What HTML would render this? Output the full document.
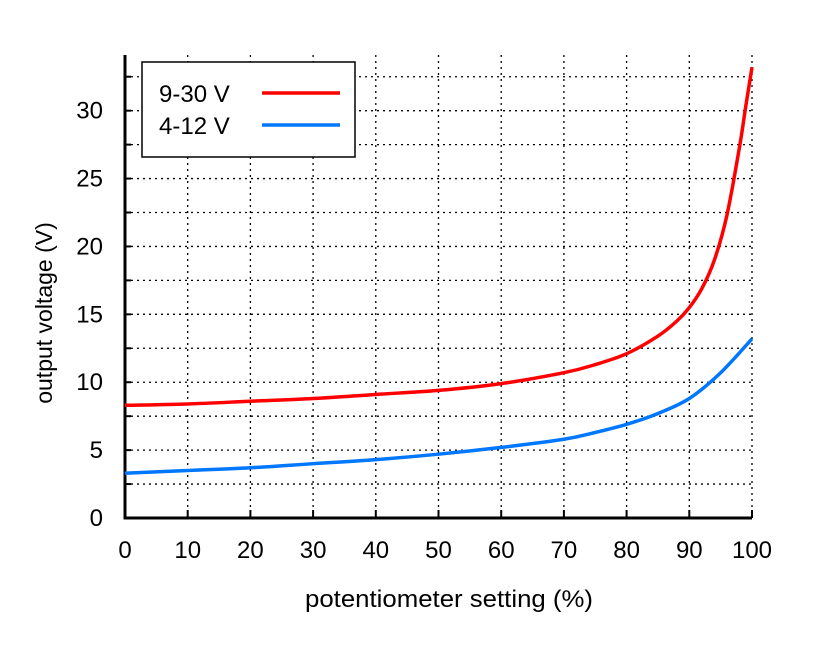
<!DOCTYPE html>
<html><head><meta charset="utf-8"><style>body{margin:0;background:#fff}svg{display:block;font-family:"Liberation Sans",sans-serif}</style></head>
<body>
<svg id="c" width="831" height="648" xmlns="http://www.w3.org/2000/svg"></svg>
<script>
const xTicks=[0,10,20,30,40,50,60,70,80,90,100];
const yTicks=[0,5,10,15,20,25,30];
const redX=[0,10,20,30,40,50,60,70,75,80,85,88,90,92,94,96,98,99,100];
const redY=[8.3,8.4,8.6,8.8,9.1,9.4,9.9,10.7,11.3,12.1,13.4,14.5,15.5,16.9,19.0,22.3,27.3,30.3,33.2];
const blueX=[0,10,20,30,40,50,60,70,75,80,85,90,95,100];
const blueY=[3.3,3.5,3.7,4.0,4.3,4.7,5.2,5.8,6.3,6.9,7.7,8.8,10.7,13.2];
const L=125,R=752,T=55,B=518,YMAX=34.1;
const sx=v=>L+(R-L)*v/100, sy=v=>B-(B-T)*v/YMAX;
const svg=document.getElementById('c');const NS='http://www.w3.org/2000/svg';
function mk(t,a,p){const e=document.createElementNS(NS,t);for(const k in a)e.setAttribute(k,a[k]);(p||svg).appendChild(e);return e;}
for(let v=2.5;v<YMAX;v+=2.5){const g=mk('line',{x1:L,x2:R,y1:sy(v),y2:sy(v),stroke:'#000','stroke-width':1.3,'stroke-dasharray':'2,4'});

const t=mk('line',{x1:L,x2:L+6,y1:sy(v),y2:sy(v),stroke:'#000','stroke-width':2});}
xTicks.forEach(v=>{if(v>0){const g=mk('line',{x1:sx(v),x2:sx(v),y1:T,y2:B,stroke:'#000','stroke-width':1.3,'stroke-dasharray':'2,4'});
}
const t=mk('line',{x1:sx(v),x2:sx(v),y1:B,y2:B-8,stroke:'#000','stroke-width':2});
const l=mk('text',{x:sx(v),y:558,'text-anchor':'middle','font-size':24});l.textContent=v;
});
yTicks.forEach(v=>{const l=mk('text',{x:103,y:sy(v)+8,'text-anchor':'end','font-size':24});l.textContent=v;
});
const ax=mk('path',{d:`M${L},${T} V${B} H${R}`,fill:'none',stroke:'#000','stroke-width':3});

function line(xs,ys,c,n){const P=xs.map((x,i)=>[sx(x),sy(ys[i])]);let d='M'+P[0];
for(let i=0;i<P.length-1;i++){const p0=P[i-1]||P[i],p1=P[i],p2=P[i+1],p3=P[i+2]||p2;
const c1=[p1[0]+(p2[0]-p0[0])/6,p1[1]+(p2[1]-p0[1])/6],c2=[p2[0]-(p3[0]-p1[0])/6,p2[1]-(p3[1]-p1[1])/6];
d+=' C'+c1+' '+c2+' '+p2;}
const p=mk('path',{d:d,fill:'none',stroke:c,'stroke-width':3.5,'stroke-linejoin':'round'});
}
line(redX,redY,'#f00','series-9-30v');line(blueX,blueY,'#07f','series-4-12v');
const lg=mk('g',{});
mk('rect',{x:142,y:62,width:213,height:95,fill:'#fff',stroke:'#000','stroke-width':1.5},lg);
const t1=mk('text',{x:159,y:102,'font-size':24},lg);t1.textContent='9-30 V';
const t2=mk('text',{x:159,y:134,'font-size':24},lg);t2.textContent='4-12 V';
mk('line',{x1:262,x2:340,y1:93,y2:93,stroke:'#f00','stroke-width':3.5},lg);
mk('line',{x1:262,x2:340,y1:125,y2:125,stroke:'#07f','stroke-width':3.5},lg);
const xt=mk('text',{x:305,y:607,'font-size':24,textLength:288,lengthAdjust:'spacingAndGlyphs'});xt.textContent='potentiometer setting (%)';

const yt=mk('text',{x:0,y:0,'text-anchor':'middle','font-size':23,transform:'translate(52,313) rotate(-90)'});yt.textContent='output voltage (V)';

</script>
</body></html>
